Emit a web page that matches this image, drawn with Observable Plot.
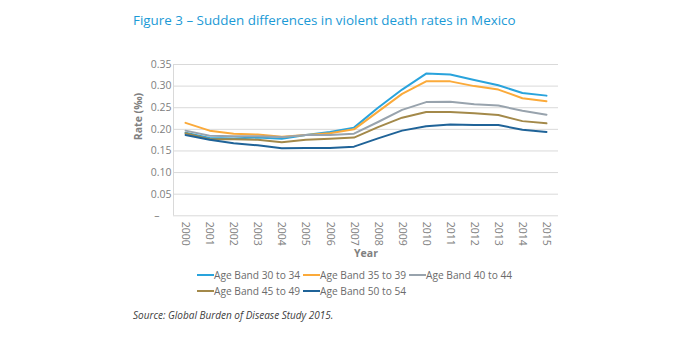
<!DOCTYPE html>
<html><head><meta charset="utf-8">
<script src="https://cdn.jsdelivr.net/npm/d3@7"></script>
<script src="https://cdn.jsdelivr.net/npm/@observablehq/plot@0.6"></script>
<style>
body{margin:0;background:#fff;width:674px;height:350px;position:relative;font-family:"Open Sans",sans-serif;overflow:hidden}
#title{position:absolute;left:133px;top:11px;font-size:13.4px;color:#1b9ad6;white-space:nowrap}
#chart{position:absolute;left:0;top:40px}
#legend{position:absolute;left:197px;top:267px;width:330px;height:34px;font-size:10.2px;color:#6b6b6b}
.item{position:absolute;display:flex;align-items:center;white-space:nowrap;height:16px}
#source{position:absolute;left:133px;top:308px;font-size:10px;font-style:italic;color:#404040;white-space:nowrap}
</style>
</head><body>
<div id="title">Figure 3 – Sudden differences in violent death rates in Mexico</div>
<div id="chart"></div>
<div id="legend"></div>
<div id="source">Source: Global Burden of Disease Study 2015.</div>
<script>
const years = [2000,2001,2002,2003,2004,2005,2006,2007,2008,2009,2010,2011,2012,2013,2014,2015];
const seriesNames = ["Age Band 30 to 34","Age Band 35 to 39","Age Band 40 to 44","Age Band 45 to 49","Age Band 50 to 54"];
const seriesColors = ["#29a3dc","#fbaa3a","#98a3ad","#a3894a","#1f6398"];
const band30to34 = [0.192,0.180,0.179,0.181,0.178,0.187,0.194,0.204,0.250,0.292,0.329,0.327,0.314,0.302,0.284,0.278];
const band35to39 = [0.215,0.197,0.190,0.188,0.183,0.187,0.191,0.200,0.241,0.282,0.311,0.311,0.300,0.292,0.272,0.265];
const band40to44 = [0.197,0.185,0.184,0.184,0.182,0.187,0.187,0.190,0.217,0.245,0.263,0.264,0.258,0.255,0.243,0.234];
const band45to49 = [0.191,0.177,0.177,0.176,0.170,0.176,0.178,0.181,0.205,0.227,0.240,0.240,0.237,0.233,0.219,0.214];
const band50to54 = [0.187,0.176,0.168,0.163,0.156,0.157,0.157,0.160,0.179,0.197,0.207,0.211,0.210,0.210,0.199,0.194];
const yTicks = [0,0.05,0.10,0.15,0.20,0.25,0.30,0.35];

const allSeries = [band30to34,band35to39,band40to44,band45to49,band50to54];
const data = [];
allSeries.forEach((vals,i)=>vals.forEach((v,j)=>data.push({series:seriesNames[i],year:years[j],value:v})));

const chart = Plot.plot({
  width:674, height:240,
  marginLeft:173, marginRight:116, marginTop:24, marginBottom:64.7,
  x:{type:"linear", domain:[1999.5,2015.5]},
  y:{domain:[0,0.35]},
  color:{domain:seriesNames, range:seriesColors},
  style:{fontFamily:"'Open Sans',sans-serif", fontSize:"10.5px", color:"#808080", background:"transparent"},
  marks:[
    Plot.ruleY(yTicks,{stroke:"#d9d9d9", strokeWidth:1}),
    Plot.ruleX([1999.5],{stroke:"#d9d9d9", strokeWidth:1}),
    Plot.axisY({ticks:yTicks, tickSize:0, tickPadding:2, label:null, tickFormat:d=>d===0?"\u2013\u2007\u2007":d.toFixed(2)}),
    Plot.axisX({ticks:years, tickSize:0, tickPadding:6, tickRotate:90, label:null, tickFormat:d=>String(d)}),
    Plot.text(["Rate (‰)"],{frameAnchor:"left", dx:-35, rotate:-90, fontWeight:"bold", fill:"#808080", fontSize:10.5}),
    Plot.text(["Year"],{frameAnchor:"bottom", dy:41, fontWeight:"bold", fill:"#808080", fontSize:10.5}),
    Plot.lineY(data,{x:"year", y:"value", z:"series", stroke:"series", strokeWidth:2})
  ]
});
document.getElementById("chart").appendChild(chart);

const legend = document.getElementById("legend");
seriesNames.forEach((name,i)=>{
  const d = document.createElement("div");
  d.className="item";
  d.style.left = (i%3)*106+"px";
  d.style.top = Math.floor(i/3)*16+"px";
  d.innerHTML = `<svg width="17" height="4"><line x1="0" x2="17" y1="2" y2="2" stroke="${seriesColors[i]}" stroke-width="2"/></svg><span>${name}</span>`;
  legend.appendChild(d);
});
</script>
</body></html>
